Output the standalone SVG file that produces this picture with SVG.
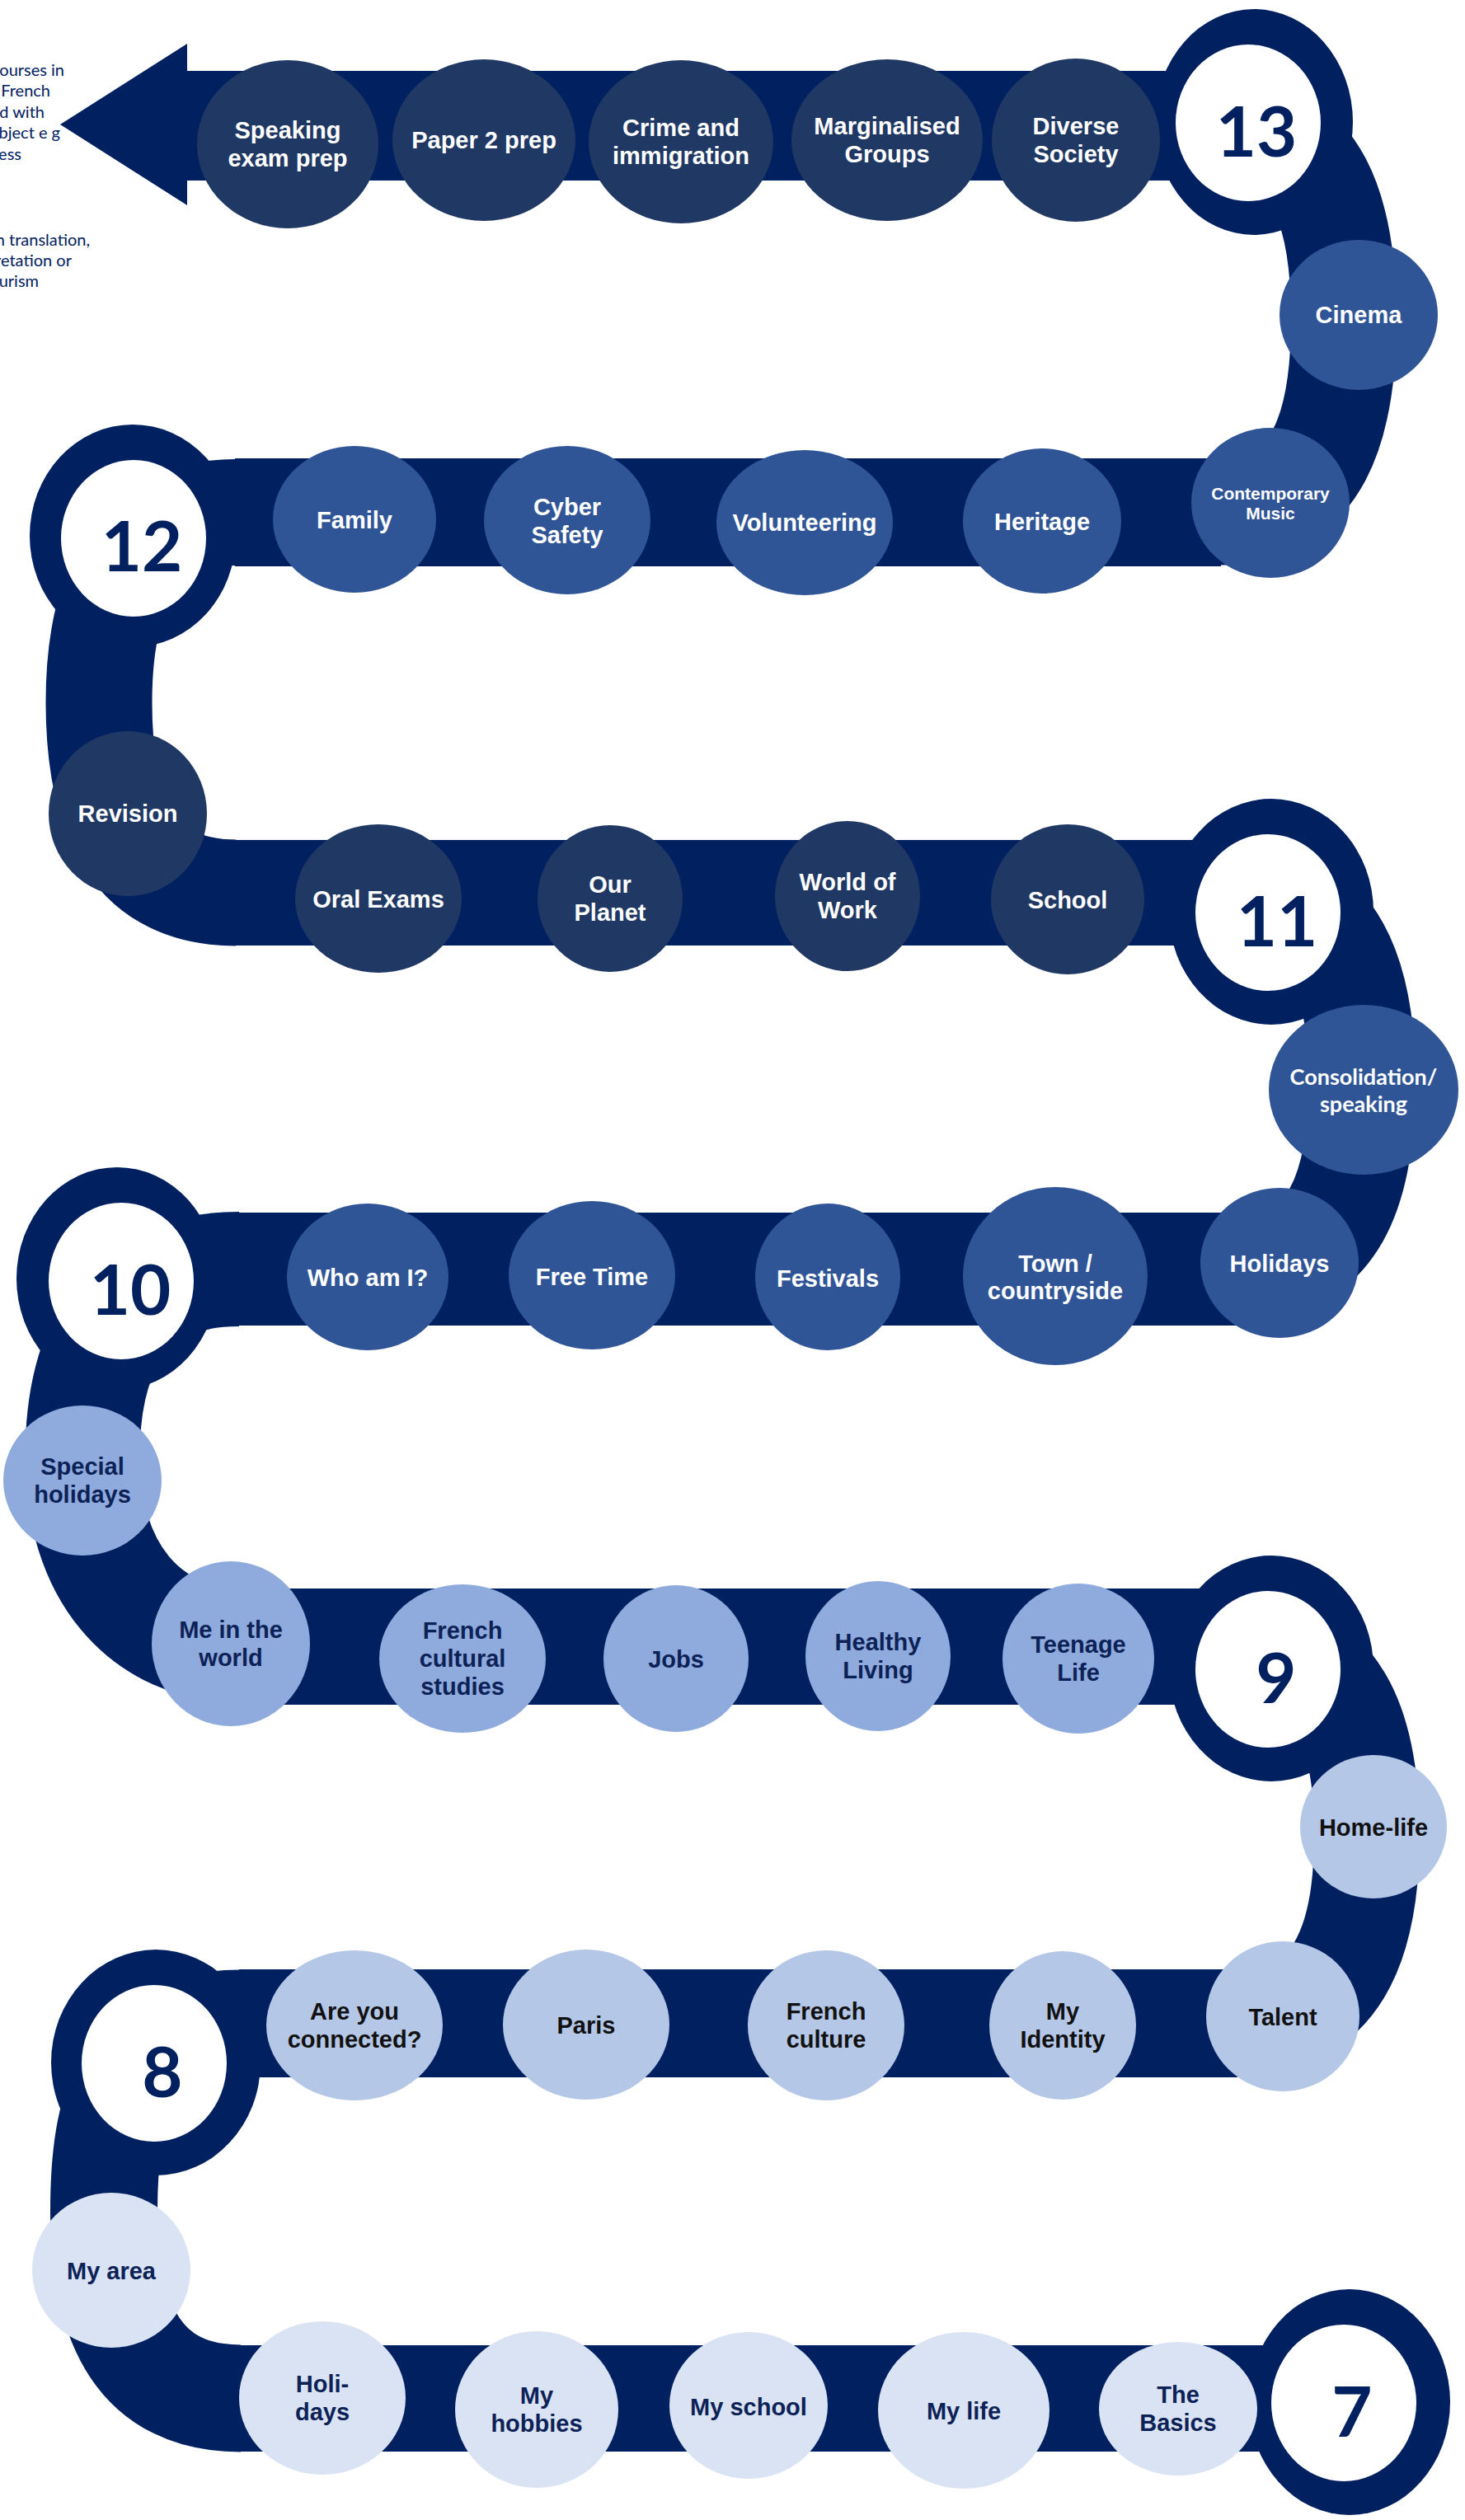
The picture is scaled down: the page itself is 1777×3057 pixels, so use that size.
<svg xmlns="http://www.w3.org/2000/svg" width="1777" height="3057" viewBox="0 0 1777 3057">
<style>
.band{fill:#002060}
.curve{fill:none;stroke:#002060}
.ringo{fill:#002060}
.ringi{fill:#ffffff}
.num{font-family:Lato,"Open Sans",sans-serif;font-weight:700;font-size:85px;fill:#002060;text-anchor:middle}
.d1{fill:#203864}
.d2{fill:#2F5597}
.l1{fill:#8FAADC}
.l2{fill:#B4C7E7}
.l3{fill:#DAE3F3}
.t{font-family:"Liberation Sans",Arial,sans-serif;font-weight:700;font-size:29px;text-anchor:middle}
.ts{font-size:21px}
.tc{font-family:Lato,"Open Sans",sans-serif;font-weight:700;font-size:27px;text-anchor:middle}
.tw{fill:#ffffff}
.tn{fill:#0C2257}
.tb{fill:#111111}
.side{font-family:Lato,"Open Sans",sans-serif;font-size:20px;fill:#002060;text-anchor:end}
</style>

<g id="side-notes">
<text class="side" x="78" y="92">courses in</text>
<text class="side" x="61" y="117">French</text>
<text class="side" x="54" y="143">d with</text>
<text class="side" x="73" y="168">bject e g</text>
<text class="side" x="26" y="194">ess</text>
<text class="side" x="109" y="298">n translation,</text>
<text class="side" x="87" y="323">retation or</text>
<text class="side" x="47" y="348">urism</text>
</g>

<g id="connectors">
<polygon class="band" points="73,151 227,53 227,249"/>
<rect class="band" x="226" y="86" width="1254" height="133"/>
<path class="curve" stroke-width="128" d="M1480,152.5 C1600,152.5 1630,260 1630,387 C1630,515 1600,621.5 1480,621.5"/>
<rect class="band" x="285" y="556" width="1196" height="131"/>
<path class="curve" stroke-width="129" d="M286,621.5 C150,621.5 120,740 120,852 C120,970 150,1083 286,1083"/>
<rect class="band" x="285" y="1019" width="1216" height="128"/>
<path class="curve" stroke-width="130" d="M1500,1083 C1620,1083 1652,1190 1652,1311 C1652,1440 1620,1539.5 1500,1539.5"/>
<rect class="band" x="289" y="1471" width="1212" height="137"/>
<path class="curve" stroke-width="139" d="M290,1539.5 C140,1539.5 100,1650 100,1768 C100,1900 170,1997.5 301,1997.5"/>
<rect class="band" x="300" y="1927" width="1240" height="141"/>
<path class="curve" stroke-width="128" d="M1500,1997.5 C1620,1997.5 1658,2090 1658,2226 C1658,2360 1620,2454.5 1500,2454.5"/>
<rect class="band" x="290" y="2389" width="1211" height="131"/>
<path class="curve" stroke-width="130" d="M291,2454.5 C150,2454.5 126,2560 126,2682 C126,2820 170,2909.5 292,2909.5"/>
<rect class="band" x="290" y="2845" width="1350" height="129"/>
</g>

<g id="year-13"><ellipse class="ringo" cx="1521" cy="148" rx="120" ry="137"/><ellipse class="ringi" cx="1514" cy="149" rx="88" ry="95"/><text class="num" x="1524" y="190">13</text></g>
<g id="year-12"><ellipse class="ringo" cx="161" cy="650" rx="125" ry="135"/><ellipse class="ringi" cx="162" cy="653" rx="88" ry="95"/><text class="num" x="172" y="693">12</text></g>
<g id="year-11"><ellipse class="ringo" cx="1542" cy="1106" rx="124" ry="137"/><ellipse class="ringi" cx="1538" cy="1107" rx="88" ry="95"/><text class="num" x="1549" y="1148">11</text></g>
<g id="year-10"><ellipse class="ringo" cx="142" cy="1551" rx="122" ry="135"/><ellipse class="ringi" cx="147" cy="1554" rx="88" ry="95"/><text class="num" x="158" y="1595">10</text></g>
<g id="year-9"><ellipse class="ringo" cx="1542" cy="2024" rx="124" ry="137"/><ellipse class="ringi" cx="1538" cy="2025" rx="88" ry="95"/><text class="num" x="1548" y="2066">9</text></g>
<g id="year-8"><ellipse class="ringo" cx="189" cy="2502" rx="127" ry="137"/><ellipse class="ringi" cx="187" cy="2503" rx="88" ry="95"/><text class="num" x="197" y="2544">8</text></g>
<g id="year-7"><ellipse class="ringo" cx="1637" cy="2914" rx="122" ry="137"/><ellipse class="ringi" cx="1630" cy="2915" rx="88" ry="95"/><text class="num" x="1640" y="2956">7</text></g>

<g id="speaking-exam-prep"><ellipse class="d1" cx="349" cy="175" rx="110" ry="102"/><text class="t tw" x="349" y="168">Speaking</text><text class="t tw" x="349" y="202">exam prep</text></g>
<g id="paper-2-prep"><ellipse class="d1" cx="587" cy="170" rx="111" ry="98"/><text class="t tw" x="587" y="180">Paper 2 prep</text></g>
<g id="crime-and-immigration"><ellipse class="d1" cx="826" cy="172" rx="112" ry="99"/><text class="t tw" x="826" y="165">Crime and</text><text class="t tw" x="826" y="199">immigration</text></g>
<g id="marginalised-groups"><ellipse class="d1" cx="1076" cy="170" rx="116" ry="98"/><text class="t tw" x="1076" y="163">Marginalised</text><text class="t tw" x="1076" y="197">Groups</text></g>
<g id="diverse-society"><ellipse class="d1" cx="1305" cy="170" rx="102" ry="99"/><text class="t tw" x="1305" y="163">Diverse</text><text class="t tw" x="1305" y="197">Society</text></g>

<g id="cinema"><ellipse class="d2" cx="1648" cy="382" rx="96" ry="91"/><text class="t tw" x="1648" y="392">Cinema</text></g>
<g id="contemporary-music"><ellipse class="d2" cx="1541" cy="610" rx="96" ry="91"/><text class="t ts tw" x="1541" y="606">Contemporary</text><text class="t ts tw" x="1541" y="630">Music</text></g>
<g id="heritage"><ellipse class="d2" cx="1264" cy="632" rx="96" ry="88"/><text class="t tw" x="1264" y="643">Heritage</text></g>
<g id="volunteering"><ellipse class="d2" cx="976" cy="634" rx="107" ry="88"/><text class="t tw" x="976" y="644">Volunteering</text></g>
<g id="cyber-safety"><ellipse class="d2" cx="688" cy="631" rx="101" ry="90"/><text class="t tw" x="688" y="625">Cyber</text><text class="t tw" x="688" y="659">Safety</text></g>
<g id="family"><ellipse class="d2" cx="430" cy="630" rx="99" ry="89"/><text class="t tw" x="430" y="641">Family</text></g>

<g id="revision"><ellipse class="d1" cx="155" cy="987" rx="96" ry="100"/><text class="t tw" x="155" y="997">Revision</text></g>
<g id="oral-exams"><ellipse class="d1" cx="459" cy="1090" rx="101" ry="90"/><text class="t tw" x="459" y="1101">Oral Exams</text></g>
<g id="our-planet"><ellipse class="d1" cx="740" cy="1090" rx="88" ry="89"/><text class="t tw" x="740" y="1083">Our</text><text class="t tw" x="740" y="1117">Planet</text></g>
<g id="world-of-work"><ellipse class="d1" cx="1028" cy="1087" rx="88" ry="91"/><text class="t tw" x="1028" y="1080">World of</text><text class="t tw" x="1028" y="1114">Work</text></g>
<g id="school"><ellipse class="d1" cx="1295" cy="1091" rx="93" ry="91"/><text class="t tw" x="1295" y="1102">School</text></g>

<g id="consolidation-speaking"><ellipse class="d2" cx="1654" cy="1322" rx="115" ry="103"/><text class="tc tw" x="1654" y="1316">Consolidation/</text><text class="tc tw" x="1654" y="1349">speaking</text></g>
<g id="holidays"><ellipse class="d2" cx="1552" cy="1532" rx="96" ry="91"/><text class="t tw" x="1552" y="1543">Holidays</text></g>
<g id="town-countryside"><ellipse class="d2" cx="1280" cy="1548" rx="112" ry="108"/><text class="t tw" x="1280" y="1543">Town /</text><text class="t tw" x="1280" y="1576">countryside</text></g>
<g id="festivals"><ellipse class="d2" cx="1004" cy="1549" rx="88" ry="89"/><text class="t tw" x="1004" y="1561">Festivals</text></g>
<g id="free-time"><ellipse class="d2" cx="718" cy="1547" rx="101" ry="90"/><text class="t tw" x="718" y="1559">Free Time</text></g>
<g id="who-am-i"><ellipse class="d2" cx="446" cy="1549" rx="98" ry="89"/><text class="t tw" x="446" y="1560">Who am I?</text></g>

<g id="special-holidays"><ellipse class="l1" cx="100" cy="1796" rx="96" ry="91"/><text class="t tn" x="100" y="1789">Special</text><text class="t tn" x="100" y="1823">holidays</text></g>
<g id="me-in-the-world"><ellipse class="l1" cx="280" cy="1994" rx="96" ry="100"/><text class="t tn" x="280" y="1987">Me in the</text><text class="t tn" x="280" y="2021">world</text></g>
<g id="french-cultural-studies"><ellipse class="l1" cx="561" cy="2012" rx="101" ry="90"/><text class="t tn" x="561" y="1988">French</text><text class="t tn" x="561" y="2022">cultural</text><text class="t tn" x="561" y="2056">studies</text></g>
<g id="jobs"><ellipse class="l1" cx="820" cy="2012" rx="88" ry="89"/><text class="t tn" x="820" y="2023">Jobs</text></g>
<g id="healthy-living"><ellipse class="l1" cx="1065" cy="2009" rx="88" ry="91"/><text class="t tn" x="1065" y="2002">Healthy</text><text class="t tn" x="1065" y="2036">Living</text></g>
<g id="teenage-life"><ellipse class="l1" cx="1308" cy="2012" rx="92" ry="91"/><text class="t tn" x="1308" y="2005">Teenage</text><text class="t tn" x="1308" y="2039">Life</text></g>

<g id="home-life"><ellipse class="l2" cx="1666" cy="2216" rx="89" ry="87"/><text class="t tb" x="1666" y="2227">Home-life</text></g>
<g id="talent"><ellipse class="l2" cx="1556" cy="2446" rx="93" ry="91"/><text class="t tb" x="1556" y="2457">Talent</text></g>
<g id="my-identity"><ellipse class="l2" cx="1289" cy="2457" rx="89" ry="90"/><text class="t tb" x="1289" y="2450">My</text><text class="t tb" x="1289" y="2484">Identity</text></g>
<g id="french-culture"><ellipse class="l2" cx="1002" cy="2457" rx="95" ry="91"/><text class="t tb" x="1002" y="2450">French</text><text class="t tb" x="1002" y="2484">culture</text></g>
<g id="paris"><ellipse class="l2" cx="711" cy="2456" rx="101" ry="91"/><text class="t tb" x="711" y="2467">Paris</text></g>
<g id="are-you-connected"><ellipse class="l2" cx="430" cy="2457" rx="107" ry="91"/><text class="t tb" x="430" y="2450">Are you</text><text class="t tb" x="430" y="2484">connected?</text></g>

<g id="my-area"><ellipse class="l3" cx="135" cy="2754" rx="96" ry="94"/><text class="t tn" x="135" y="2765">My area</text></g>
<g id="holi-days"><ellipse class="l3" cx="391" cy="2909" rx="101" ry="93"/><text class="t tn" x="391" y="2902">Holi-</text><text class="t tn" x="391" y="2936">days</text></g>
<g id="my-hobbies"><ellipse class="l3" cx="651" cy="2923" rx="99" ry="95"/><text class="t tn" x="651" y="2916">My</text><text class="t tn" x="651" y="2950">hobbies</text></g>
<g id="my-school"><ellipse class="l3" cx="908" cy="2918" rx="96" ry="89"/><text class="t tn" x="908" y="2930">My school</text></g>
<g id="my-life"><ellipse class="l3" cx="1169" cy="2924" rx="104" ry="95"/><text class="t tn" x="1169" y="2935">My life</text></g>
<g id="the-basics"><ellipse class="l3" cx="1429" cy="2922" rx="96" ry="81"/><text class="t tn" x="1429" y="2915">The</text><text class="t tn" x="1429" y="2949">Basics</text></g>
</svg>
